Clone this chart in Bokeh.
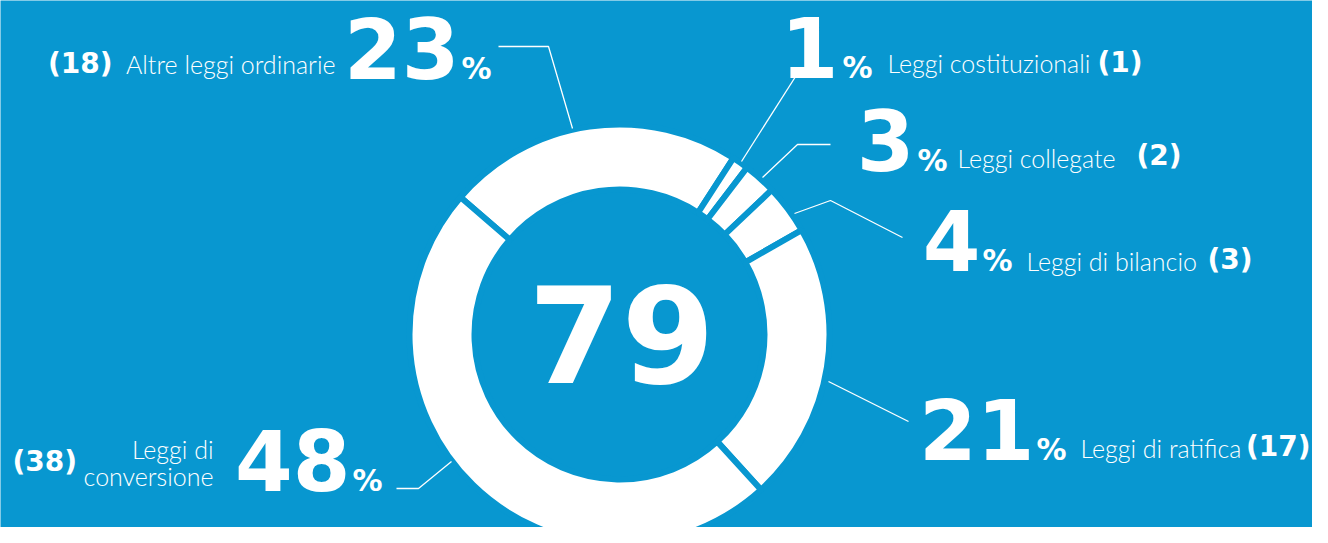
import numpy as np
from bokeh.plotting import figure
from bokeh.models import Range1d
from bokeh.core.properties import value
from bokeh.embed import file_html
from bokeh.resources import INLINE

# ---------------- data ----------------
categories = ["Altre leggi ordinarie", "Leggi costituzionali", "Leggi collegate",
              "Leggi di bilancio", "Leggi di ratifica", "Leggi di conversione"]
counts = [18, 1, 2, 3, 17, 38]
percent_labels = ["23", "1", "3", "4", "21", "48"]
total_label = "79"

# ---------------- style / layout ----------------
BG = "#0897d0"
H = 543
def fy(y):
    return H - y

# the svg text baseline lands ~0.38 em lower than requested: compensate
def by(baseline, size):
    return fy(baseline - 0.38 * size)

CX, CY = 619, fy(334)
R_OUT, R_IN = 210, 145
START_CW = -49.2  # degrees clockwise from 12 o'clock where first slice begins

p = figure(width=1312, height=527, x_range=Range1d(0, 1312), y_range=Range1d(H - 527, H),
           output_backend="svg", toolbar_location=None, min_border=0)
p.axis.visible = False
p.grid.visible = False
p.outline_line_color = None
p.background_fill_color = BG
p.border_fill_color = BG

# ---------------- donut ----------------
total = sum(counts)
cum = np.cumsum([0] + counts)
th1 = START_CW + 360.0 * cum[:-1] / total
th2 = START_CW + 360.0 * cum[1:] / total
start = np.radians(90 - th2)
end = np.radians(90 - th1)
p.annular_wedge(x=CX, y=CY, inner_radius=R_IN, outer_radius=R_OUT,
                start_angle=start, end_angle=end, direction="anticlock",
                fill_color="white", line_color=BG, line_width=6)

# center total
S_TOT = 134
p.text(x=[CX + 2], y=[by(384, S_TOT)], text=[total_label], text_font=value("DejaVu Sans"),
       text_font_style="bold", text_font_size="%dpx" % S_TOT, text_color="white",
       text_align="center", text_baseline="alphabetic")

# ---------------- leader lines ----------------
leaders = [
    [(498, 46), (548, 46), (572, 128)],
    [(797, 73), (741, 161)],
    [(830, 144), (797, 144), (762, 177)],
    [(794, 213), (830, 200), (902, 237)],
    [(828, 381), (908, 421)],
    [(396, 488), (418, 488), (451, 461)],
]
p.multi_line(xs=[[q[0] for q in l] for l in leaders],
             ys=[[fy(q[1]) for q in l] for l in leaders],
             line_color="white", line_width=1.3)

# ---------------- labels ----------------
S_NUM, S_PCT, S_NAME, S_CNT = 83, 30, 25, 28
num_right = [459, 838, 914, 980, 1034, 350]
pct_left = [461, 842, 917, 982, 1036, 352]
num_base = [79, 78, 171, 271, 460, 491]

p.text(x=num_right, y=[by(b, S_NUM) for b in num_base], text=percent_labels,
       text_font=value("DejaVu Sans"), text_font_style="bold", text_font_size="%dpx" % S_NUM,
       text_color="white", text_align="right", text_baseline="alphabetic")
p.text(x=pct_left, y=[by(b, S_PCT) for b in num_base], text=["%"] * len(percent_labels),
       text_font=value("DejaVu Sans"), text_font_style="bold", text_font_size="%dpx" % S_PCT,
       text_color="white", text_align="left", text_baseline="alphabetic")

name_text = [categories[0], categories[1], categories[2], categories[3], categories[4],
             "Leggi di", "conversione"]
name_x = [335, 887, 957, 1026, 1080, 213, 213]
name_base = [73, 72, 167, 270, 457, 458, 485]
name_align = ["right", "left", "left", "left", "left", "right", "right"]
p.text(x=name_x, y=[by(b, S_NAME) for b in name_base], text=name_text,
       text_font=value("Lato Light, Lato"), text_font_size="%dpx" % S_NAME, text_color="white",
       text_align=name_align, text_baseline="alphabetic")

count_text = ["(%d)" % c for c in counts]
count_x = [112, 1097, 1136, 1207, 1310, 12]
count_base = [74, 73, 166, 270, 457, 472]
count_align = ["right", "left", "left", "left", "right", "left"]
p.text(x=count_x, y=[by(b, S_CNT) for b in count_base], text=count_text,
       text_font=value("DejaVu Sans"), text_font_style="bold", text_font_size="%dpx" % S_CNT,
       text_color="white", text_align=count_align, text_baseline="alphabetic")

open("out.html", "w").write(file_html(p, INLINE))
